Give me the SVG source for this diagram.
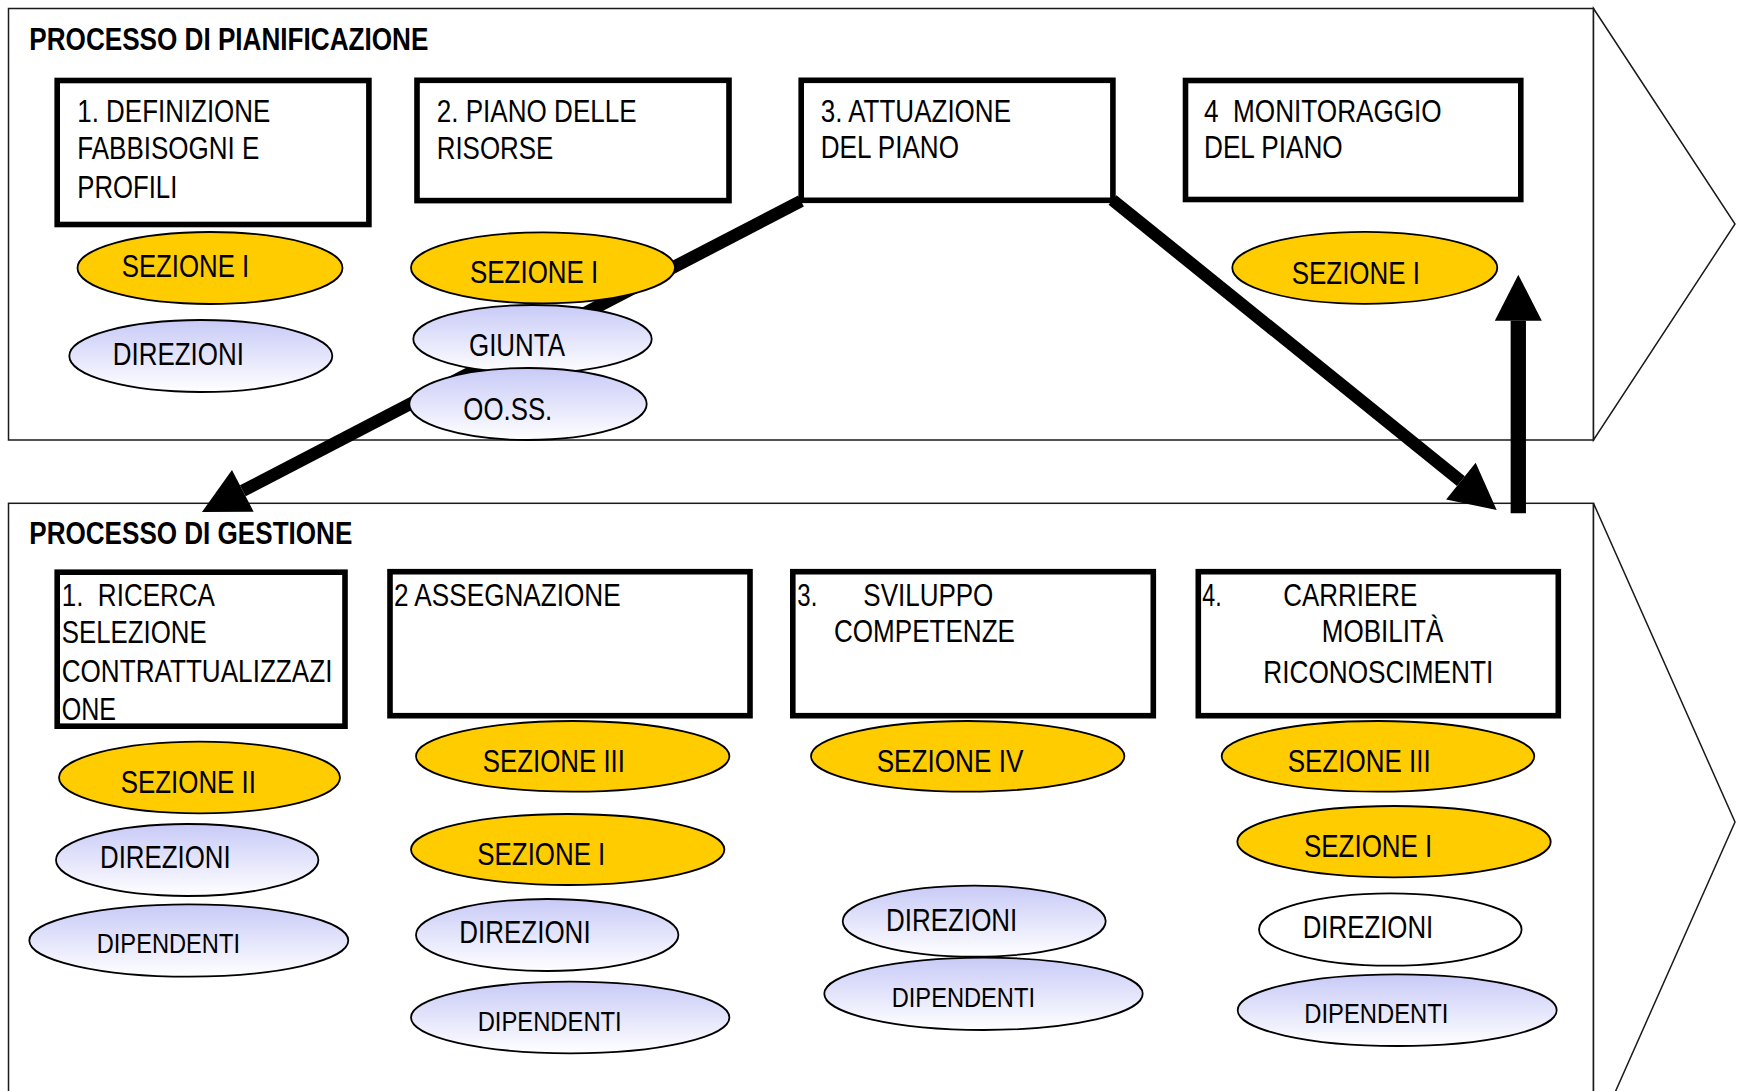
<svg xmlns="http://www.w3.org/2000/svg" width="1741" height="1091" viewBox="0 0 1741 1091">
  <style>
    .panel { fill: #fff; stroke: #1a1a1a; stroke-width: 1.5; }
    .box { fill: #fff; stroke: #000; stroke-width: 5.6; }
    .sez { fill: #FFCC00; stroke: #000; stroke-width: 1.8; }
    .act { fill: url(#lilac); stroke: #000; stroke-width: 1.8; }
    .plain { fill: #fff; stroke: #000; stroke-width: 1.8; }
    .t { font-family: "Liberation Sans Narrow", "Liberation Sans", Arial, sans-serif; font-size: 30.5px; fill: #000; }
    .title { font-weight: bold; font-size: 32px; }
    .small { font-size: 28px; }
    .flow { fill: none; stroke: #000; stroke-width: 12.5; marker-end: url(#head); }
    .up { fill: none; stroke: #000; stroke-width: 15.3; marker-end: url(#head); }
  </style>
  <defs>
    <linearGradient id="lilac" x1="0" y1="0" x2="0" y2="1">
      <stop offset="0" stop-color="#C8CAF7"/>
      <stop offset="1" stop-color="#FFFFFF"/>
    </linearGradient>
    <marker id="head" markerUnits="userSpaceOnUse" markerWidth="48" markerHeight="48" refX="0" refY="23.5" orient="auto" overflow="visible">
      <path d="M0,0 L46,23.5 L0,47 Z" fill="#000"/>
    </marker>
  </defs>

  <!-- process bands -->
  <g id="band-pianificazione">
    <rect class="panel" x="8.5" y="8.5" width="1585" height="431.5"/>
    <polygon class="panel" points="1593.5,8.5 1735,224 1593.5,440"/>
    <text class="t title" x="29.3" y="50" textLength="399" lengthAdjust="spacingAndGlyphs">PROCESSO DI PIANIFICAZIONE</text>
  </g>
  <g id="band-gestione">
    <rect class="panel" x="8.5" y="503.3" width="1585" height="637.7"/>
    <polygon class="panel" points="1593.5,503.3 1735,822 1593.5,1141"/>
    <text class="t title" x="29.3" y="544.3" textLength="323" lengthAdjust="spacingAndGlyphs">PROCESSO DI GESTIONE</text>
  </g>

  <!-- connectors -->
  <g id="connectors">
    <path class="flow" d="M801,201 L242.8,490.8"/>
    <path class="flow" d="M1112.5,200 L1460.9,481.1"/>
    <path class="up" d="M1518.3,513.3 V320.7"/>
  </g>

  <!-- planning steps -->
  <g id="p1">
    <rect class="box" x="57.2" y="80.5" width="311.7" height="144"/>
    <text class="t" x="77.3" y="121.7" textLength="193" lengthAdjust="spacingAndGlyphs">1. DEFINIZIONE</text>
    <text class="t" x="77.3" y="159" textLength="182" lengthAdjust="spacingAndGlyphs">FABBISOGNI E</text>
    <text class="t" x="77.3" y="198.3" textLength="100" lengthAdjust="spacingAndGlyphs">PROFILI</text>
  </g>
  <g id="p2">
    <rect class="box" x="417" y="80.3" width="312" height="120.3"/>
    <text class="t" x="436.7" y="121.7" textLength="200" lengthAdjust="spacingAndGlyphs">2. PIANO DELLE</text>
    <text class="t" x="436.7" y="159" textLength="116.7" lengthAdjust="spacingAndGlyphs">RISORSE</text>
  </g>
  <g id="p3">
    <rect class="box" x="801.2" y="80.3" width="311.7" height="120"/>
    <text class="t" x="820.7" y="121.7" textLength="190.3" lengthAdjust="spacingAndGlyphs">3. ATTUAZIONE</text>
    <text class="t" x="820.7" y="158.3" textLength="138.3" lengthAdjust="spacingAndGlyphs">DEL PIANO</text>
  </g>
  <g id="p4">
    <rect class="box" x="1185.5" y="80.5" width="335.3" height="119"/>
    <text class="t" x="1204" y="121.7" textLength="237.7" lengthAdjust="spacingAndGlyphs" xml:space="preserve">4  MONITORAGGIO</text>
    <text class="t" x="1204" y="158.3" textLength="138.7" lengthAdjust="spacingAndGlyphs">DEL PIANO</text>
  </g>

  <!-- planning actors -->
  <g id="p1-sez1">
    <ellipse class="sez" cx="210" cy="268" rx="132.5" ry="36"/>
    <text class="t" x="121.7" y="276.7" textLength="127.6" lengthAdjust="spacingAndGlyphs">SEZIONE I</text>
  </g>
  <g id="p1-dir">
    <ellipse class="act" cx="200.8" cy="356" rx="131.5" ry="36"/>
    <text class="t" x="112.7" y="365" textLength="131.3" lengthAdjust="spacingAndGlyphs">DIREZIONI</text>
  </g>
  <g id="p2-sez1">
    <ellipse class="sez" cx="543" cy="267.8" rx="132" ry="35.5"/>
    <text class="t" x="470" y="282.7" textLength="128.3" lengthAdjust="spacingAndGlyphs">SEZIONE I</text>
  </g>
  <g id="p2-giunta">
    <ellipse class="act" cx="532.5" cy="339" rx="119.2" ry="34"/>
    <text class="t" x="469" y="356" textLength="96" lengthAdjust="spacingAndGlyphs">GIUNTA</text>
  </g>
  <g id="p2-ooss">
    <ellipse class="act" cx="528" cy="404" rx="118.7" ry="36"/>
    <text class="t" x="463.3" y="420" textLength="89" lengthAdjust="spacingAndGlyphs">OO.SS.</text>
  </g>
  <g id="p4-sez1">
    <ellipse class="sez" cx="1364.8" cy="267.8" rx="132.5" ry="36"/>
    <text class="t" x="1291.7" y="284" textLength="128.3" lengthAdjust="spacingAndGlyphs">SEZIONE I</text>
  </g>

  <!-- management steps -->
  <g id="g1">
    <rect class="box" x="57.2" y="572.2" width="287.8" height="154"/>
    <text class="t" x="61.7" y="606" textLength="153.3" lengthAdjust="spacingAndGlyphs" xml:space="preserve">1.  RICERCA</text>
    <text class="t" x="61.7" y="642.7" textLength="145" lengthAdjust="spacingAndGlyphs">SELEZIONE</text>
    <text class="t" x="61.7" y="681.7" textLength="270.7" lengthAdjust="spacingAndGlyphs">CONTRATTUALIZZAZI</text>
    <text class="t" x="61.7" y="720" textLength="54.3" lengthAdjust="spacingAndGlyphs">ONE</text>
  </g>
  <g id="g2">
    <rect class="box" x="390" y="571.7" width="360" height="144"/>
    <text class="t" x="394" y="605.7" textLength="226.7" lengthAdjust="spacingAndGlyphs">2 ASSEGNAZIONE</text>
  </g>
  <g id="g3">
    <rect class="box" x="792.8" y="571.7" width="360.5" height="144"/>
    <text class="t" x="797.3" y="605.7" textLength="20" lengthAdjust="spacingAndGlyphs">3.</text>
    <text class="t" x="863.3" y="605.7" textLength="130" lengthAdjust="spacingAndGlyphs">SVILUPPO</text>
    <text class="t" x="834" y="642.3" textLength="181" lengthAdjust="spacingAndGlyphs">COMPETENZE</text>
  </g>
  <g id="g4">
    <rect class="box" x="1198.3" y="571.7" width="360" height="144"/>
    <text class="t" x="1202.3" y="605.7" textLength="19.4" lengthAdjust="spacingAndGlyphs">4.</text>
    <text class="t" x="1283.3" y="605.7" textLength="134" lengthAdjust="spacingAndGlyphs">CARRIERE</text>
    <text class="t" x="1321.7" y="642.3" textLength="121.6" lengthAdjust="spacingAndGlyphs">MOBILITÀ</text>
    <text class="t" x="1263.3" y="682.7" textLength="230" lengthAdjust="spacingAndGlyphs">RICONOSCIMENTI</text>
  </g>

  <!-- management actors -->
  <g id="g1-sez2">
    <ellipse class="sez" cx="199.5" cy="777.5" rx="140.5" ry="35.8"/>
    <text class="t" x="120.7" y="793.3" textLength="135.3" lengthAdjust="spacingAndGlyphs">SEZIONE II</text>
  </g>
  <g id="g1-dir">
    <ellipse class="act" cx="187.2" cy="860" rx="131.2" ry="36"/>
    <text class="t" x="100" y="868.3" textLength="130.7" lengthAdjust="spacingAndGlyphs">DIREZIONI</text>
  </g>
  <g id="g1-dip">
    <ellipse class="act" cx="188.8" cy="940.5" rx="159.5" ry="36.2"/>
    <text class="t small" x="96.7" y="953.3" textLength="143.3" lengthAdjust="spacingAndGlyphs">DIPENDENTI</text>
  </g>

  <g id="g2-sez3">
    <ellipse class="sez" cx="572.7" cy="756.3" rx="156.7" ry="35.3"/>
    <text class="t" x="482.7" y="772.3" textLength="142.3" lengthAdjust="spacingAndGlyphs">SEZIONE III</text>
  </g>
  <g id="g2-sez1">
    <ellipse class="sez" cx="567.7" cy="849.5" rx="156.7" ry="35.5"/>
    <text class="t" x="477.3" y="865" textLength="128" lengthAdjust="spacingAndGlyphs">SEZIONE I</text>
  </g>
  <g id="g2-dir">
    <ellipse class="act" cx="547.2" cy="935" rx="131.2" ry="36"/>
    <text class="t" x="459.3" y="943.3" textLength="131.3" lengthAdjust="spacingAndGlyphs">DIREZIONI</text>
  </g>
  <g id="g2-dip">
    <ellipse class="act" cx="570.2" cy="1017.5" rx="159.2" ry="35.8"/>
    <text class="t small" x="477.7" y="1031" textLength="144" lengthAdjust="spacingAndGlyphs">DIPENDENTI</text>
  </g>

  <g id="g3-sez4">
    <ellipse class="sez" cx="967.7" cy="756.3" rx="156.7" ry="35.3"/>
    <text class="t" x="876.7" y="772.3" textLength="146.7" lengthAdjust="spacingAndGlyphs">SEZIONE IV</text>
  </g>
  <g id="g3-dir">
    <ellipse class="act" cx="974.2" cy="921.2" rx="131.5" ry="35.5"/>
    <text class="t" x="886" y="930.7" textLength="131.3" lengthAdjust="spacingAndGlyphs">DIREZIONI</text>
  </g>
  <g id="g3-dip">
    <ellipse class="act" cx="983.5" cy="993.8" rx="159.2" ry="36.2"/>
    <text class="t small" x="891.7" y="1006.7" textLength="143.3" lengthAdjust="spacingAndGlyphs">DIPENDENTI</text>
  </g>

  <g id="g4-sez3">
    <ellipse class="sez" cx="1378" cy="756.3" rx="156.3" ry="35.3"/>
    <text class="t" x="1287.7" y="772.3" textLength="143" lengthAdjust="spacingAndGlyphs">SEZIONE III</text>
  </g>
  <g id="g4-sez1">
    <ellipse class="sez" cx="1394" cy="841.7" rx="156.7" ry="35.7"/>
    <text class="t" x="1304" y="856.7" textLength="128.3" lengthAdjust="spacingAndGlyphs">SEZIONE I</text>
  </g>
  <g id="g4-dir">
    <ellipse class="plain" cx="1390.3" cy="929.5" rx="131.3" ry="36.2"/>
    <text class="t" x="1302.7" y="938.3" textLength="130.6" lengthAdjust="spacingAndGlyphs">DIREZIONI</text>
  </g>
  <g id="g4-dip">
    <ellipse class="act" cx="1397.2" cy="1010.2" rx="159.5" ry="35.8"/>
    <text class="t small" x="1304.3" y="1022.7" textLength="144" lengthAdjust="spacingAndGlyphs">DIPENDENTI</text>
  </g>
</svg>
